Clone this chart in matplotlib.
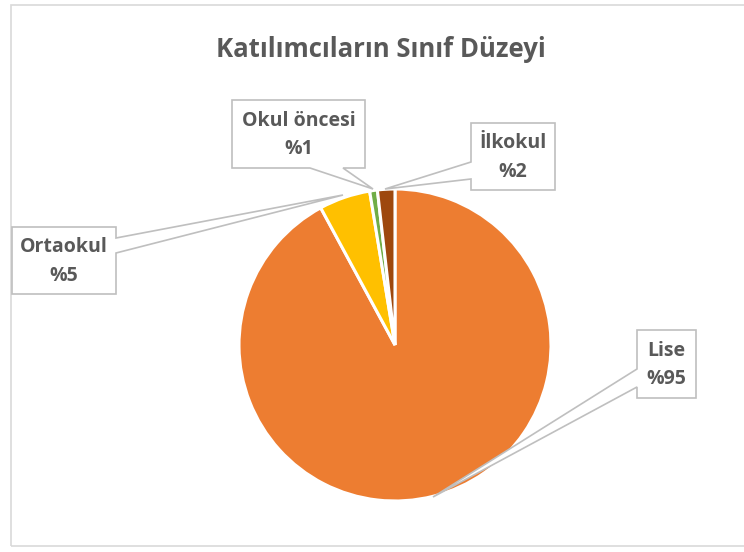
import matplotlib
matplotlib.use("Agg")
import matplotlib.pyplot as plt
from matplotlib.patches import Polygon, Rectangle

# Data
categories = ["Lise", "Ortaokul", "Okul öncesi", "İlkokul"]
values = [92.1, 5.3, 0.8, 1.8]
label_texts = ["Lise\n%95", "Ortaokul\n%5", "Okul öncesi\n%1", "İlkokul\n%2"]
colors = ["#ED7D31", "#FFC000", "#70AD47", "#9E480E"]
title = "Katılımcıların Sınıf Düzeyi"

W, H = 744, 552
fig = plt.figure(figsize=(W / 100, H / 100), dpi=100)
plt.rcParams['font.family'] = ['Open Sans', 'DejaVu Sans']

def fx(x):
    return x / W

def fy(y):
    return 1 - y / H

# outer chart border
fig.patches.append(Rectangle((fx(11), fy(546)), fx(745) - fx(11), fy(5) - fy(546),
                             transform=fig.transFigure, fill=False,
                             edgecolor="#D9D9D9", linewidth=1.2))

# pie axes: center (395,345), radius 156 px
cx, cy, r = 395, 345, 156
ax = fig.add_axes([fx(cx - r), fy(cy + r), 2 * r / W, 2 * r / H])
ax.pie(values, colors=colors, startangle=90, counterclock=False, radius=1,
       wedgeprops=dict(edgecolor="white", linewidth=2.2))
ax.set_xlim(-1.0, 1.0)
ax.set_ylim(-1.0, 1.0)
ax.set_aspect("equal")
ax.axis("off")

fig.text(fx(381), fy(49), title, ha="center", va="center",
         fontsize=18.5, fontweight="bold", color="#595959")

# callouts: box (x0, y0, x1, y1), pointer polygon pts in pixels, text center
callouts = {
    "Okul öncesi": dict(box=(232, 100, 365, 168),
                        poly=[(232, 100), (365, 100), (365, 168), (343, 168), (373, 189),
                              (310, 168), (232, 168)]),
    "Ortaokul": dict(box=(12, 227, 116, 294),
                     poly=[(12, 227), (116, 227), (116, 238), (343, 195), (116, 253),
                           (116, 294), (12, 294)]),
    "İlkokul": dict(box=(471, 123, 555, 190),
                    poly=[(471, 123), (555, 123), (555, 190), (471, 190), (471, 179),
                          (385, 189), (471, 162)]),
    "Lise": dict(box=(637, 330, 696, 398),
                 poly=[(637, 330), (696, 330), (696, 398), (637, 398), (637, 387),
                       (433, 497), (637, 369)]),
}

for cat, txt in zip(categories, label_texts):
    c = callouts[cat]
    pts = [(fx(x), fy(y)) for x, y in c["poly"]]
    fig.patches.append(Polygon(pts, closed=True, transform=fig.transFigure,
                               facecolor="white", edgecolor="#BFBFBF", linewidth=1.2,
                               zorder=5))
    x0, y0, x1, y1 = c["box"]
    fig.text(fx((x0 + x1) / 2), fy((y0 + y1) / 2 + 1), txt, ha="center", va="center",
             fontsize=14, fontweight="bold", color="#595959", linespacing=1.55,
             zorder=6)

fig.savefig("out.png", dpi=100, facecolor="white")
